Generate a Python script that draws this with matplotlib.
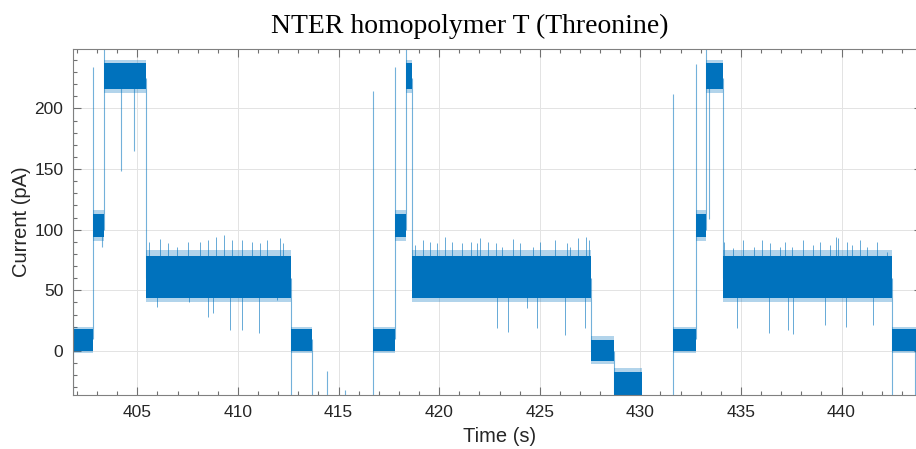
import numpy as np
import matplotlib.pyplot as plt
from matplotlib.ticker import MultipleLocator

# ---------------------------------
# Current levels of the trace (pA)
# each level: start time, end time, dense core range, noisy fringe range
# ---------------------------------
seg_start = [401.80, 402.81, 403.35, 405.43, 412.62,
             416.73, 417.81, 418.34, 418.64, 427.56, 428.67,
             431.64, 432.75, 433.27, 434.10, 442.53]
seg_end = [402.81, 403.35, 405.43, 412.62, 413.70,
           417.81, 418.34, 418.64, 427.56, 428.67, 430.07,
           432.75, 433.27, 434.10, 442.53, 444.00]
core_lo = [0, 94, 216, 44, 0,
           0, 94, 216, 44, -8, -45,
           0, 94, 216, 44, 0]
core_hi = [18, 113, 237, 78, 18,
           18, 113, 237, 78, 9, -17,
           18, 113, 237, 78, 18]
fringe_lo = [-2, 91, 213, 40, -2,
             -2, 91, 213, 40, -10.5, -48,
             -2, 91, 213, 40, -2]
fringe_hi = [20, 116, 240, 83, 20,
             20, 116, 240, 83, 12, -14,
             20, 116, 240, 83, 20]

# jumps between levels and isolated excursions (time, from, to)
jump_t = [401.82, 402.81, 403.35, 403.23, 404.17, 404.85, 405.43, 412.62, 413.70,
          414.44, 415.34, 416.73, 417.81, 418.34, 418.64, 427.56, 428.67,
          431.64, 432.75, 433.27, 433.43, 434.10, 442.53, 443.63]
jump_lo = [-40, 10, 100, 86, 148, 165, 60, -40, -40,
           -40, -40, -40, 10, 100, 60, 0, -40,
           -40, 10, 100, 109, 60, -40, -40]
jump_hi = [218, 234, 260, 100, 225, 225, 225, 60, 10,
           -16.5, -32, 214, 234, 260, 225, 60, 0,
           212, 236.6, 260, 225, 225, 60, 10]

# upward bursts on the ~60 pA level
up_t = [405.60, 406.13, 406.51, 406.99, 407.53, 408.12, 408.53, 408.91, 409.31,
        409.69, 410.19, 410.69, 411.10, 411.43, 412.09, 412.26,
        418.80, 419.21, 419.55, 419.88, 420.29, 420.63, 421.12, 421.57, 421.87,
        422.03, 422.45, 422.83, 423.11, 423.69, 424.02, 424.68, 425.01, 425.76,
        426.34, 426.51, 426.92, 427.30, 427.45,
        434.16, 434.62, 435.09, 435.65, 436.06, 436.45, 436.94, 437.19, 437.52,
        438.07, 438.60, 438.93, 439.43, 439.73, 439.84, 440.26, 440.51, 440.92,
        441.25, 441.75, 442.28]
up_v = [90.1, 92.0, 88.8, 86.0, 90.0, 90.0, 91.5, 94.2, 95.6,
        91.5, 91.5, 90.0, 88.8, 91.5, 93.0, 88.8,
        87.4, 91.5, 90.0, 88.8, 94.2, 90.0, 88.8, 90.0, 88.8,
        93.0, 90.0, 88.8, 86.0, 92.0, 88.8, 86.0, 90.0, 91.5,
        88.8, 86.0, 93.0, 94.2, 91.5,
        90.0, 84.7, 91.5, 86.0, 91.5, 88.8, 86.0, 90.0, 86.0,
        91.5, 87.4, 90.0, 87.4, 94.2, 93.0, 90.0, 87.4, 91.5,
        86.0, 90.0, 81.9]

# downward blockades on the ~60 pA level
down_t = [405.96, 407.58, 408.53, 408.75, 409.58, 410.19, 411.06, 411.95,
          422.86, 423.44, 424.35, 424.85, 426.26, 427.25,
          434.82, 436.41, 437.36, 437.57, 439.18, 440.21, 441.58]
down_v = [36.5, 40.6, 28.3, 31.0, 17.3, 17.3, 14.6, 42.0,
          18.7, 15.9, 35.2, 18.7, 13.2, 18.7,
          18.7, 15.1, 17.3, 14.0, 21.4, 19.5, 21.4]

blue = '#0072BD'

fig = plt.figure(figsize=(9.16, 4.49), dpi=100)
ax = fig.add_axes([73/916, 1 - 395/449, 849/916, 345.7/449])

# level bands
for t0, t1, clo, chi, flo, fhi in zip(seg_start, seg_end, core_lo, core_hi, fringe_lo, fringe_hi):
    ax.fill_between([t0, t1], [flo, flo], [fhi, fhi], color=blue, alpha=0.3, lw=0)
    ax.fill_between([t0, t1], [clo, clo], [chi, chi], color=blue, lw=0)

# jumps and spikes
ax.vlines(jump_t, jump_lo, jump_hi, color=blue, lw=0.8, alpha=0.55)
ax.vlines(up_t, [60] * len(up_t), up_v, color=blue, lw=0.7, alpha=0.6)
ax.vlines(down_t, [50] * len(down_t), down_v, color=blue, lw=0.7, alpha=0.6)

ax.set_xlim(401.8, 444.0)
ax.set_ylim(-36.3, 248.7)

ax.xaxis.set_major_locator(MultipleLocator(5))
ax.xaxis.set_minor_locator(MultipleLocator(1))
ax.yaxis.set_major_locator(MultipleLocator(50))
ax.yaxis.set_minor_locator(MultipleLocator(10))
ax.tick_params(which='both', direction='in', top=True, right=True,
               color='#707070', labelcolor='#262626', labelsize=12.5, width=0.8)
ax.tick_params(which='major', length=5.5, pad=7)
ax.tick_params(which='minor', length=3)
for lab in ax.get_xticklabels() + ax.get_yticklabels():
    lab.set_fontfamily('Liberation Sans')

ax.grid(True, which='major', color='#e3e3e3', lw=0.7)
ax.set_axisbelow(True)
for s in ax.spines.values():
    s.set_color('#808080')
    s.set_linewidth(0.8)

fig.text(500/916, 1 - 437/449, 'Time (s)', ha='center', va='center',
         fontsize=14.5, family='Liberation Sans', color='#262626')
fig.text(22/916, 1 - 222/449, 'Current (pA)', ha='center', va='center', rotation=90,
         fontsize=14.5, family='Liberation Sans', color='#262626')
fig.text(470/916, 1 - 33/449, 'NTER homopolymer T (Threonine)', ha='center', va='baseline',
         fontsize=20, family='Liberation Serif', color='black')

fig.savefig('out.png', dpi=100)
